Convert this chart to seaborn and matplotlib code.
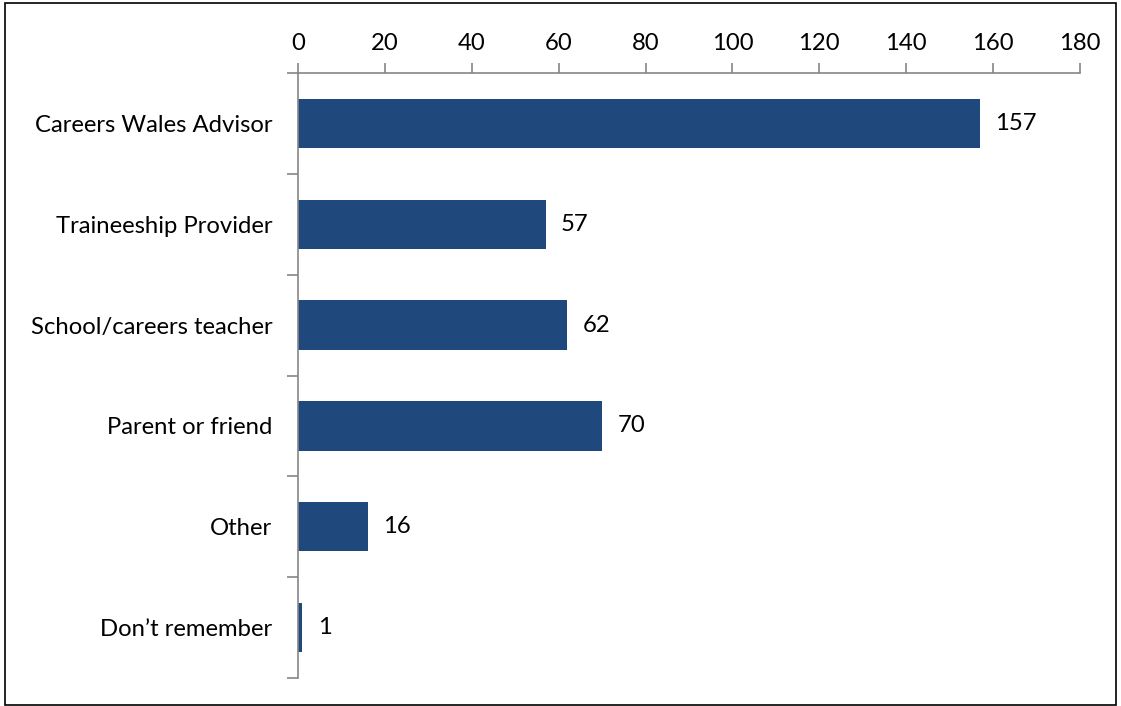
import matplotlib
matplotlib.use("Agg")
import matplotlib.pyplot as plt
import seaborn as sns
import pandas as pd
from matplotlib.patches import Rectangle

categories = ["Careers Wales Advisor", "Traineeship Provider", "School/careers teacher",
              "Parent or friend", "Other", "Don\u2019t remember"]
values = [157, 57, 62, 70, 16, 1]
xticks = [0, 20, 40, 60, 80, 100, 120, 140, 160, 180]

sns.set_theme(style="white")
plt.rcParams['font.family'] = ['Lato', 'DejaVu Sans']

df = pd.DataFrame({"source": categories, "count": values})

fig = plt.figure(figsize=(11.21, 7.06), dpi=100)
ax = fig.add_axes([298/1121, 1-678/706, (1080-298)/1121, (678-73)/706])

sns.barplot(data=df, y="source", x="count", orient="h", color="#1F497D",
            saturation=1, width=0.49, linewidth=0, ax=ax)

ax.set_xlim(0, 180)
ax.set_ylim(len(categories)-0.5, -0.5)
ax.set_xticks(xticks)
ax.xaxis.tick_top()
ax.set_xlabel("")
ax.set_ylabel("")

spine_col = "#868686"
for s in ["bottom", "right"]:
    ax.spines[s].set_visible(False)
for s in ["top", "left"]:
    ax.spines[s].set_visible(True)
    ax.spines[s].set_color(spine_col)
    ax.spines[s].set_linewidth(1.2)

fs = 17.2
ax.tick_params(axis="x", which="major", direction="out", length=7, width=1.2,
               color=spine_col, labelsize=fs, pad=7, top=True, bottom=False,
               labeltop=True, labelbottom=False, labelcolor="black")
ax.tick_params(axis="y", which="major", length=0, labelsize=fs, pad=18.5, labelcolor="black")
ax.set_yticks([i - 0.5 for i in range(len(categories) + 1)], minor=True)
ax.tick_params(axis="y", which="minor", direction="out", length=8, width=1.2,
               color=spine_col, left=True)

for c in ax.containers:
    texts = ax.bar_label(c, labels=[str(v) for v in values], padding=11, fontsize=fs, color="black")
    for t in texts:
        t.set_va("center")

fig.add_artist(Rectangle((5/1121, 0.002), 1-10/1121, 1-0.006, transform=fig.transFigure,
                         fill=False, edgecolor="black", linewidth=1.2))

fig.savefig("out.png", dpi=100)
